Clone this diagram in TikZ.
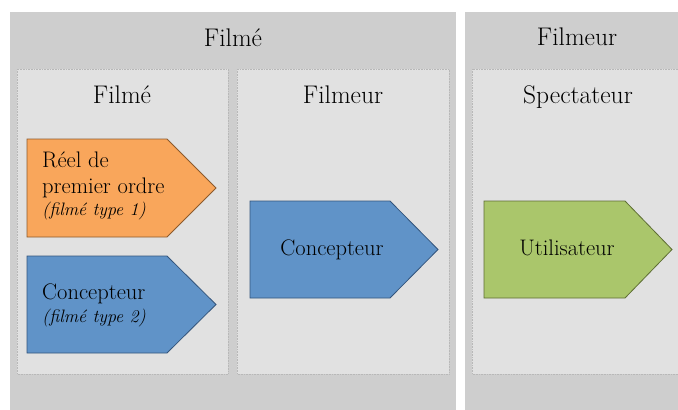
\documentclass[tikz,border=0pt]{standalone}
\usetikzlibrary{calc}
\definecolor{outergray}{HTML}{CECECE}
\definecolor{innergray}{HTML}{E1E1E1}
\definecolor{edgegray}{HTML}{B8B8B8}
\definecolor{orangefill}{HTML}{F9A65B}
\definecolor{orangeline}{HTML}{8C5A2C}
\definecolor{bluefill}{HTML}{6093C8}
\definecolor{blueline}{HTML}{34557C}
\definecolor{greenfill}{HTML}{AAC66B}
\definecolor{greenline}{HTML}{5E6E34}
\tikzset{
	outerpanel/.style={fill=outergray, draw=none},
	innerpanel/.style={fill=innergray, draw=edgegray, densely dotted, line width=0.6pt},
	headtext/.style={anchor=base, inner sep=0pt, font=\fontsize{25.5}{27}\selectfont},
	boxtext/.style={anchor=base west, inner sep=0pt, font=\fontsize{22.5}{24}\selectfont},
	midtext/.style={anchor=base, inner sep=0pt, font=\fontsize{22.5}{24}\selectfont},
	typetext/.style={anchor=base west, inner sep=0pt, font=\fontsize{18}{20}\selectfont\itshape}
}
% left x, top y, tip x, bottom y, end of flat part
\def\pentarrow[#1](#2,#3)(#4,#5)(#6){\draw[#1] (#2,#3) -- (#6,#3) -- (#4,{(#3+#5)/2}) -- (#6,#5) -- (#2,#5) -- cycle;}

\begin{document}
\begin{tikzpicture}[x=1pt, y=-1pt]
			%%%%% START %%%%%
			
			\useasboundingbox[fill=white] (0, 0) rectangle (678, 410);
			
			\draw[outerpanel] (10, 12) rectangle (456, 412);
			\draw[outerpanel] (465, 12) rectangle (692, 412);
			\node[headtext] (filmeTitle) at (233, 46) {Filmé};
			\node[headtext] (filmeurTitle) at (577, 45) {Filmeur};
			
			\draw[innerpanel] (17, 69) rectangle (228, 374);
			\draw[innerpanel] (237, 69) rectangle (449, 374);
			\draw[innerpanel] (472, 69) rectangle (686, 374);
			\node[headtext] (filmeHead) at (122, 103) {Filmé};
			\node[headtext] (filmeurHead) at (343, 103) {Filmeur};
			\node[headtext] (spectHead) at (578, 103) {Spectateur};
			
			\pentarrow[fill=orangefill, draw=orangeline, line width=0.8pt](27, 139)(216, 237)(167)
			\node[boxtext] (reelA) at (42, 167) {Réel de};
			\node[boxtext] (reelB) at (42, 193) {premier ordre};
			\node[typetext] (reelC) at (42, 215) {(filmé type 1)};
			
			\pentarrow[fill=bluefill, draw=blueline, line width=0.8pt](27, 256)(216, 353)(167)
			\node[boxtext] (concA) at (42, 299) {Concepteur};
			\node[typetext] (concB) at (42, 322) {(filmé type 2)};
			
			\pentarrow[fill=bluefill, draw=blueline, line width=0.8pt](250, 201)(438, 298)(390)
			\node[midtext] (concMid) at (332, 255) {Concepteur};
			
			\pentarrow[fill=greenfill, draw=greenline, line width=0.8pt](484, 201)(672, 298)(625)
			\node[midtext] (utilMid) at (567, 255) {Utilisateur};
			
			%%%%% END %%%%%
\end{tikzpicture}
\end{document}
